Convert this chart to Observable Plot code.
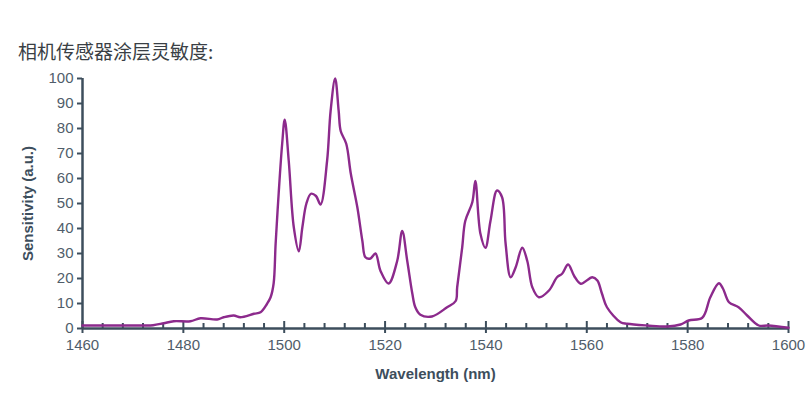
<!DOCTYPE html>
<html>
<head>
<meta charset="utf-8">
<script src="https://cdn.jsdelivr.net/npm/d3@7"></script>
<script src="https://cdn.jsdelivr.net/npm/@observablehq/plot@0.6"></script>
<style>
  body { margin: 0; background: #fff; width: 812px; height: 399px; overflow: hidden; }
  #title { margin: 40px 0 0 18px; height: 22px; line-height: 22px; font-family: "Noto Sans CJK SC", sans-serif; font-size: 19px; color: #3a3f45; }
</style>
</head>
<body>
<div id="title">相机传感器涂层灵敏度:</div>
<div id="chart"></div>
<script>
const wavelength = [1460,1464,1468,1472,1474,1476.1,1478.1,1481.4,1483.4,1486.7,1488,1490,1491.3,1494,1495.3,1496.6,1497.3,1497.9,1498.3,1498.9,1499.6,1500.1,1500.9,1501.9,1502.9,1503.6,1504.4,1505.3,1506.3,1507.2,1508.5,1509.2,1510.1,1510.8,1511.2,1512.3,1513.2,1514.5,1515.5,1516.1,1517.1,1518.1,1519.1,1520.7,1522.4,1523.4,1524.4,1525.4,1526,1527,1529.3,1532.3,1534,1534.3,1535.3,1535.9,1537.3,1537.9,1538.9,1539.9,1540.9,1542.2,1543.2,1543.9,1544.9,1545.9,1547.2,1548.2,1549.2,1550.5,1552.5,1554.1,1555.1,1556.3,1557.5,1558.8,1561.1,1562.1,1563,1564,1566.7,1568,1572,1576,1578.6,1580.2,1582.9,1584.5,1586.2,1587,1588.2,1590.1,1591.8,1594.1,1596,1600];
const sensitivity = [1.2,1.2,1.2,1.2,1.3,2.1,2.9,2.9,4.1,3.6,4.5,5.2,4.5,5.9,6.5,9.9,12.5,18,34,54,74,83.5,67,40.5,30.9,40.5,50,53.9,53,49.6,67,87,100,87,79,73.9,62,48.5,35,28.5,28,30,23,18,27,39,27,14,8.5,5.5,4.8,8.5,11,16.5,32.5,43,50.5,59,38,32.3,43,55.2,52.5,34,20.5,24.5,32.3,27,16.5,12.5,15.2,20.5,21.9,25.6,21,17.9,20.5,19.2,14,8.5,2.5,1.9,1.2,0.8,1.6,3.2,4.3,12.5,18.1,16,10.5,8.5,5.2,1.2,1.2,0.3];
const xMajorTicks = [1460,1480,1500,1520,1540,1560,1580,1600];
const xMinorTicks = d3.range(1464, 1600, 4).filter(v => !xMajorTicks.includes(v));
const yTicks = [0,10,20,30,40,50,60,70,80,90,100];

const data = wavelength.map((w, i) => ({w, s: sensitivity[i]}));
const axisColor = "#3d4e5c";
const textColor = "#505d6a";
const font = "'Liberation Sans', Arial, sans-serif";

const chart = Plot.plot({
  width: 812,
  height: 337,
  marginTop: 16,
  marginBottom: 71,
  marginLeft: 82,
  marginRight: 24,
  style: {fontFamily: font, background: "#fff"},
  x: {domain: [1460, 1600]},
  y: {domain: [0, 100]},
  marks: [
    Plot.axisY({ticks: yTicks, tickSize: 5, tickPadding: 4, stroke: axisColor, strokeWidth: 2, fill: textColor, fontSize: 15, label: null}),
    Plot.axisX({ticks: xMajorTicks, tickSize: 0, tickPadding: 11, tickFormat: d3.format("d"), fill: textColor, fontSize: 15, label: null}),
    Plot.ruleX(xMinorTicks, {y1: 0, y2: 2, stroke: axisColor, strokeWidth: 2}),
    Plot.ruleX(xMajorTicks, {y1: -2, y2: 2.8, stroke: axisColor, strokeWidth: 2}),
    Plot.ruleY([0], {stroke: axisColor, strokeWidth: 2.5}),
    Plot.ruleX([1460], {stroke: axisColor, strokeWidth: 2.5}),
    Plot.line(data, {x: "w", y: "s", stroke: "#8c2a8c", strokeWidth: 2.4, curve: "catmull-rom"}),
    Plot.text(["Sensitivity (a.u.)"], {frameAnchor: "left", textAnchor: "middle", dx: -54, rotate: -90, fontSize: 15, fontWeight: "bold", fill: axisColor}),
    Plot.text(["Wavelength (nm)"], {frameAnchor: "bottom", dy: 50, fontSize: 15, fontWeight: "bold", fill: axisColor})
  ]
});
document.getElementById("chart").appendChild(chart);
</script>
</body>
</html>
